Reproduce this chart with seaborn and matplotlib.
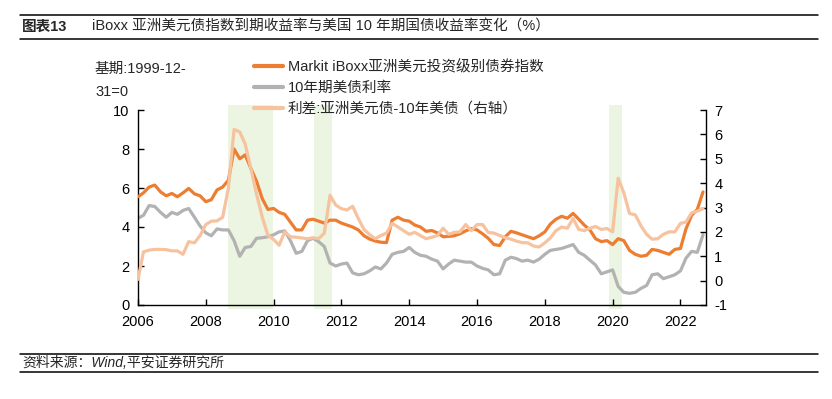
import matplotlib
matplotlib.use("Agg")
import matplotlib.pyplot as plt
import matplotlib.dates as mdates
from matplotlib.lines import Line2D
import pandas as pd
import seaborn as sns

# bimonthly readings, Jan 2006 .. Sep 2022
DATES = pd.date_range("2006-01-01", "2022-09-01", freq="2MS")

IBOXX_YIELD = [
    5.55, 5.75, 6.05, 6.15, 5.80, 5.60, 5.72, 5.55, 5.75, 5.98,
    5.70, 5.60, 5.30, 5.40, 5.90, 6.05, 6.40, 8.00, 7.50, 7.70,
    7.00, 6.35, 5.45, 4.90, 4.95, 4.75, 4.65, 4.25, 3.85, 3.85,
    4.35, 4.40, 4.30, 4.20, 4.35, 4.35, 4.20, 4.10, 4.00, 3.85,
    3.55, 3.38, 3.28, 3.22, 3.20, 4.35, 4.50, 4.35, 4.30, 4.10,
    4.00, 3.78, 3.82, 3.70, 3.50, 3.52, 3.55, 3.65, 3.80, 3.92,
    3.85, 3.65, 3.42, 3.10, 3.05, 3.50, 3.78, 3.70, 3.60, 3.50,
    3.40, 3.55, 3.75, 4.15, 4.40, 4.55, 4.45, 4.70, 4.40, 4.10,
    3.85, 3.40, 3.25, 3.30, 3.10, 3.40, 3.30, 2.80, 2.60, 2.50,
    2.55, 2.85, 2.80, 2.70, 2.60, 2.85, 2.90, 3.90, 4.60, 4.90,
    5.80,
]

UST_10Y = [
    4.45, 4.60, 5.10, 5.05, 4.75, 4.50, 4.75, 4.65, 4.85, 4.95,
    4.50, 4.05, 3.70, 3.55, 3.90, 3.85, 3.85, 3.30, 2.50, 2.95,
    3.00, 3.42, 3.45, 3.50, 3.60, 3.75, 3.80, 3.30, 2.65, 2.75,
    3.30, 3.42, 3.25, 3.00, 2.15, 2.00, 2.10, 2.15, 1.65, 1.55,
    1.60, 1.75, 1.95, 1.85, 2.15, 2.60, 2.70, 2.75, 2.95, 2.70,
    2.55, 2.50, 2.35, 2.25, 1.85, 2.10, 2.30, 2.25, 2.20, 2.20,
    2.00, 1.88, 1.80, 1.55, 1.60, 2.30, 2.45, 2.38, 2.25, 2.30,
    2.20, 2.35, 2.60, 2.80, 2.85, 2.90, 3.00, 3.10, 2.70, 2.55,
    2.30, 2.05, 1.60, 1.70, 1.80, 0.95, 0.65, 0.60, 0.65, 0.85,
    1.00, 1.55, 1.60, 1.35, 1.45, 1.55, 1.75, 2.40, 2.75, 2.70,
    3.60,
]

SPREAD = [
    0.05, 1.18, 1.25, 1.28, 1.28, 1.27, 1.22, 1.22, 1.08, 1.60,
    1.55, 1.85, 2.30, 2.44, 2.45, 2.60, 3.80, 6.20, 6.10, 5.60,
    4.60, 3.55, 2.60, 1.85, 1.69, 1.45, 2.00, 1.80, 1.78, 1.75,
    1.72, 1.76, 1.72, 1.95, 3.50, 3.10, 2.95, 2.90, 3.05, 2.55,
    2.10, 1.88, 1.72, 1.85, 1.95, 2.35, 2.20, 2.05, 1.90, 1.98,
    1.85, 1.72, 1.78, 1.85, 2.15, 1.90, 1.98, 2.00, 2.30, 2.05,
    2.30, 2.30, 1.98, 1.95, 1.85, 1.76, 1.70, 1.62, 1.56, 1.55,
    1.42, 1.38, 1.55, 1.75, 2.05, 2.20, 2.15, 2.55, 2.10, 2.05,
    2.15, 2.22, 2.10, 2.14, 2.00, 4.20, 3.60, 2.75, 2.70, 2.25,
    1.90, 1.70, 1.72, 1.90, 2.00, 2.00, 2.35, 2.40, 2.78, 2.85,
    2.95,
]

SHADED = [
    ("2008-08-25", "2009-12-25"),
    ("2011-03-10", "2011-09-20"),
    ("2019-11-20", "2020-04-12"),
]

LABELS = [
    "Markit iBoxx亚洲美元投资级别债券指数",
    "10年期美债利率",
    "利差:亚洲美元债-10年美债（右轴）",
]
COLORS = ["#ED7D31", "#B2B2B2", "#F7C29E"]

sns.set_theme(style="white")
plt.rcParams["font.family"] = ["Liberation Sans", "Noto Sans CJK SC", "DejaVu Sans"]
plt.rcParams["axes.unicode_minus"] = False

df = pd.DataFrame({"date": DATES, "iboxx": IBOXX_YIELD, "ust": UST_10Y, "spread": SPREAD})

W, H = 832, 399
fig = plt.figure(figsize=(W / 100, H / 100), dpi=100)
ax = fig.add_axes([138 / W, 1 - 305 / H, (706 - 138) / W, 195 / H])
ax2 = ax.twinx()

for start, end in SHADED:
    ax.axvspan(pd.Timestamp(start), pd.Timestamp(end), ymin=-0.02, ymax=1.025,
               color="#EBF5E1", lw=0, zorder=0, clip_on=False)

sns.lineplot(data=df, x="date", y="iboxx", color=COLORS[0], lw=2.3, ax=ax, zorder=3)
sns.lineplot(data=df, x="date", y="ust", color=COLORS[1], lw=2.3, ax=ax, zorder=2)
sns.lineplot(data=df, x="date", y="spread", color=COLORS[2], lw=2.3, ax=ax2)

ax.set_xlim(pd.Timestamp("2006-01-01"), pd.Timestamp("2022-10-03"))
ax.set_ylim(0, 10)
ax.set_yticks(range(0, 11, 2))
ax2.set_ylim(-1, 7)
ax2.set_yticks(range(-1, 8))
ax.xaxis.set_major_locator(mdates.YearLocator(2))
ax.xaxis.set_major_formatter(mdates.DateFormatter("%Y"))

for a in (ax, ax2):
    a.set_xlabel("")
    a.set_ylabel("")
    a.patch.set_visible(False)
    for side in ("left", "right", "bottom"):
        a.spines[side].set_color("black")
        a.spines[side].set_linewidth(1.0)
    a.spines["top"].set_visible(False)
ax.spines["right"].set_visible(False)
ax2.spines["left"].set_visible(False)
ax2.spines["bottom"].set_visible(False)

ax.tick_params(axis="y", direction="in", length=4, width=1, pad=6, labelsize=10.5, colors="black", left=True)
ax.tick_params(axis="x", direction="in", length=4, width=1, pad=7, labelsize=10.5, colors="black", bottom=True)
ax2.tick_params(axis="y", direction="in", length=4, width=1, pad=6, labelsize=10.5, colors="black", right=True)

handles = [Line2D([], [], color=c, lw=3) for c in COLORS]
fig.legend(handles, LABELS, loc="upper left", bbox_to_anchor=(254 / W, 1 - 60 / H),
           frameon=False, fontsize=10.5, handlelength=2.0, handletextpad=0.3,
           labelspacing=0.45, borderpad=0, borderaxespad=0)

fig.text(95 / W, 1 - 69 / H, "基期:1999-12-", fontsize=10.5, va="center", ha="left")
fig.text(95 / W, 1 - 92 / H, "31=0", fontsize=10.5, va="center", ha="left")

# header and footer
fig.text(22 / W, 1 - 27 / H, "图表13", fontsize=10.5, fontweight="bold", va="center", ha="left")
fig.text(92 / W, 1 - 27 / H, "iBoxx 亚洲美元债指数到期收益率与美国 10 年期国债收益率变化（%）",
         fontsize=10.5, va="center", ha="left")
for yy in (15, 39, 354, 372):
    fig.add_artist(Line2D([20 / W, 818 / W], [1 - yy / H, 1 - yy / H],
                          transform=fig.transFigure, color="black", lw=1.1))
fig.text(22 / W, 1 - 363 / H, "资料来源：Wind,平安证券研究所", fontsize=10, style="italic",
         va="center", ha="left")

fig.savefig("out.png", dpi=100)
